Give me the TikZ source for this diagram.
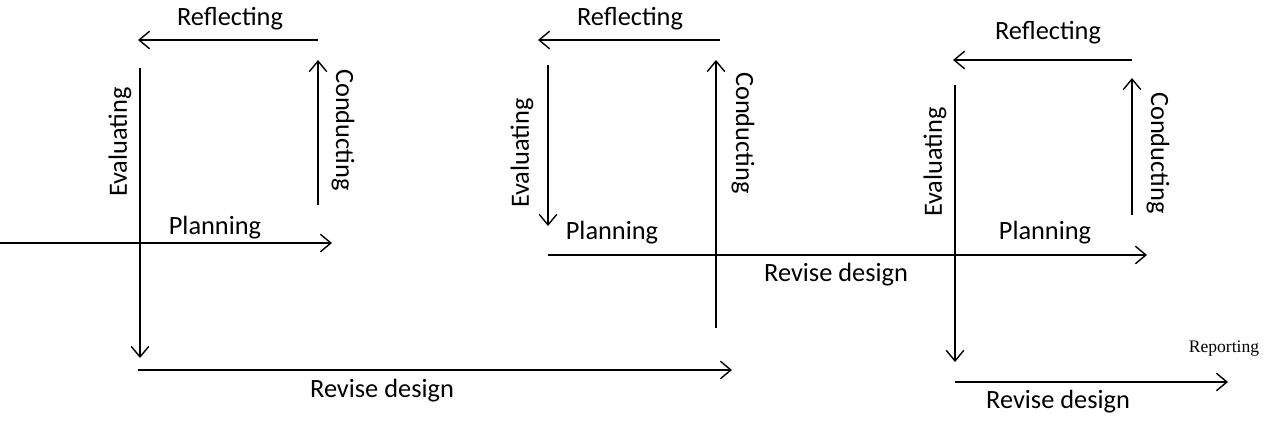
\documentclass[tikz,border=0pt]{standalone}
\usepackage{fontspec}
\setmainfont{Carlito}
\newfontfamily\serifrm{Liberation Serif}
\usetikzlibrary{arrows.meta}
\tikzset{
>={Straight Barb[length=6pt,width=10pt]},
  phase/.style={draw, thick, ->},
  lbl/.style={font=\fontsize{15}{17}\selectfont, inner sep=0pt},
  uplbl/.style={lbl, rotate=90},
  downlbl/.style={lbl, rotate=-90},
}
\begin{document}
\begin{tikzpicture}
  [x=0.02cm, y=-0.02cm]
  \useasboundingbox (0,0) rectangle (1280,424);
  % first cycle
  \coordinate (p1s) at (0,243);    \coordinate (p1e) at (332,243);
  \coordinate (e1s) at (140,68);   \coordinate (e1e) at (140,358);
  \coordinate (r1s) at (318,40);   \coordinate (r1e) at (138,40);
  \coordinate (c1s) at (318,205);  \coordinate (c1e) at (318,60);
  \coordinate (d1s) at (138,370);  \coordinate (d1e) at (732,370);
  \draw[phase] (p1s) -- (p1e);
  \draw[phase] (e1s) -- (e1e);
  \draw[phase] (r1s) -- (r1e);
  \draw[phase] (c1s) -- (c1e);
  \draw[phase] (d1s) -- (d1e);
  \node[lbl] (plan1) at (215,228) {Planning};
  \node[uplbl] (eval1) at (120,142) {Evaluating};
  \node[lbl] (refl1) at (230,19) {Reflecting};
  \node[downlbl] (cond1) at (343,130) {Conducting};
  \node[lbl] (rev1) at (382,391) {Revise design};
  % second cycle
  \coordinate (r2s) at (720,40);   \coordinate (r2e) at (538,40);
  \coordinate (e2s) at (548,65);   \coordinate (e2e) at (548,226);
  \coordinate (c2s) at (716,328);  \coordinate (c2e) at (716,60);
  \coordinate (p2s) at (548,255);  \coordinate (p2e) at (1147,255);
  \draw[phase] (r2s) -- (r2e);
  \draw[phase] (e2s) -- (e2e);
  \draw[phase] (c2s) -- (c2e);
  \draw[phase] (p2s) -- (p2e);
  \node[lbl] (refl2) at (630,19) {Reflecting};
  \node[uplbl] (eval2) at (522,153) {Evaluating};
  \node[downlbl] (cond2) at (743,133) {Conducting};
  \node[lbl] (plan2) at (612,233) {Planning};
  \node[lbl] (rev2) at (836,275) {Revise design};
  % third cycle
  \coordinate (r3s) at (1132,60);  \coordinate (r3e) at (953,60);
  \coordinate (c3s) at (1132,215); \coordinate (c3e) at (1132,78);
  \coordinate (e3s) at (955,85);   \coordinate (e3e) at (955,362);
  \coordinate (d3s) at (955,382);  \coordinate (d3e) at (1228,382);
  \draw[phase] (r3s) -- (r3e);
  \draw[phase] (c3s) -- (c3e);
  \draw[phase] (e3s) -- (e3e);
  \draw[phase] (d3s) -- (d3e);
  \node[lbl] (refl3) at (1048,33) {Reflecting};
  \node[uplbl] (eval3) at (935,162) {Evaluating};
  \node[downlbl] (cond3) at (1158,153) {Conducting};
  \node[lbl] (plan3) at (1045,233) {Planning};
  \node[lbl] (rev3) at (1058,402) {Revise design};
  \node[lbl, font=\serifrm\fontsize{10}{12}\selectfont] (rep) at (1224,349) {Reporting};
\end{tikzpicture}
\end{document}
